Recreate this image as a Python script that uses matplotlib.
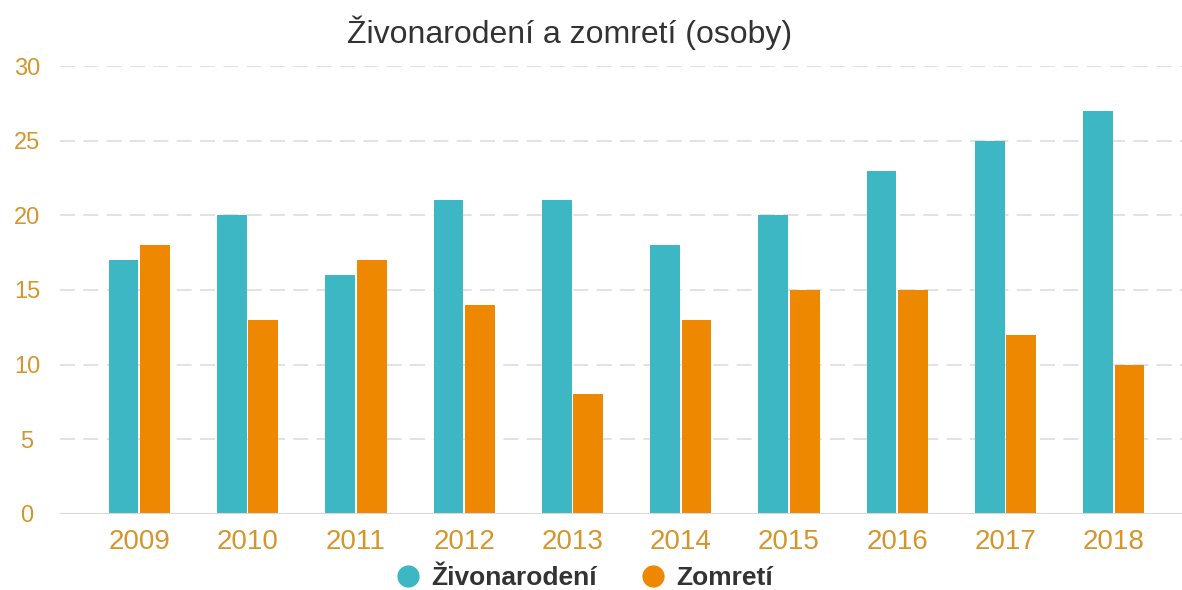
import numpy as np
import matplotlib.pyplot as plt
from matplotlib.lines import Line2D

# ==================== data ====================
years = ['2009', '2010', '2011', '2012', '2013', '2014', '2015', '2016', '2017', '2018']
zivonarodeni = [17, 20, 16, 21, 21, 18, 20, 23, 25, 27]
zomreti = [18, 13, 17, 14, 8, 13, 15, 15, 12, 10]
yticks = [0, 5, 10, 15, 20, 25, 30]

# ==================== style ====================
teal = '#3db7c4'
orange = '#ee8800'
tickcol = '#d4962c'
textcol = '#333333'
barw = 0.275

plt.rcParams['font.family'] = ['Liberation Sans', 'DejaVu Sans']

fig = plt.figure(figsize=(11.82, 5.90), dpi=100)
ax = fig.add_axes([0.051, 0.129, 0.949, 0.759])

x = np.arange(len(years))
ax.bar(x - barw/2 - 0.008, zivonarodeni, barw, color=teal, zorder=3)
ax.bar(x + barw/2 + 0.008, zomreti, barw, color=orange, zorder=3)

ax.set_ylim(0, 30)
ax.set_xlim(-0.73, len(years) - 1 + 0.63)
ax.set_yticks(yticks)
ax.set_yticklabels([str(v) for v in yticks])
ax.set_xticks(x)
ax.set_xticklabels(years)
ax.tick_params(axis='both', length=0, labelcolor=tickcol)
ax.tick_params(axis='y', pad=24, labelsize=17)
ax.tick_params(axis='x', pad=11, labelsize=20)
for lab in ax.get_yticklabels():
    lab.set_horizontalalignment('center')

for v in yticks[1:]:
    ax.axhline(v, color='#dddddd', lw=1.2, ls=(0, (9, 5)), zorder=1)
ax.axhline(0, color='#d8d8d8', lw=1.5, zorder=4)

for s in ax.spines.values():
    s.set_visible(False)

fig.text(0.482, 0.945, 'Živonarodení a zomretí (osoby)', ha='center', va='center',
         fontsize=23, color=textcol)

handles = [Line2D([], [], ls='', marker='o', ms=15, color=teal),
           Line2D([], [], ls='', marker='o', ms=15, color=orange)]
leg = fig.legend(handles, ['Živonarodení', 'Zomretí'], loc='center', bbox_to_anchor=(0.493, 0.02),
                 ncol=2, frameon=False, handletextpad=0.3, handlelength=1.2, columnspacing=1.5,
                 prop={'size': 19, 'weight': 'bold'})
for t in leg.get_texts():
    t.set_color(textcol)

plt.savefig('out.png', dpi=100)
